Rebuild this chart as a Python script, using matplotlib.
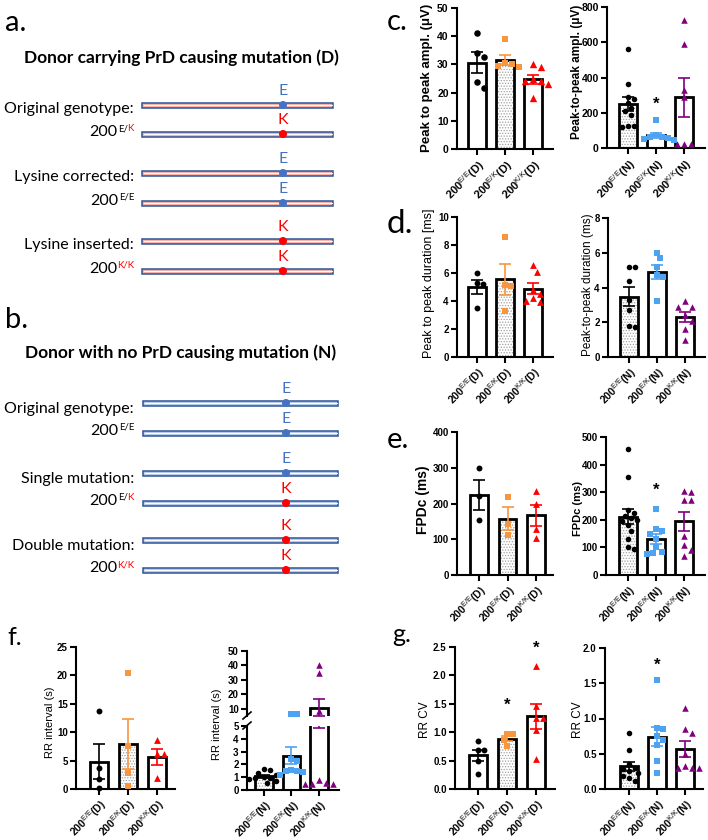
import numpy as np
import matplotlib
matplotlib.use('Agg')
import matplotlib.pyplot as plt
from matplotlib.patches import Rectangle, Circle

# ---------------- data ----------------
d_labels = [r'200$^{\mathrm{E/E}}$(D)', r'200$^{\mathrm{E/K}}$(D)', r'200$^{\mathrm{K/K}}$(D)']
n_labels = [r'200$^{\mathrm{E/E}}$(N)', r'200$^{\mathrm{E/K}}$(N)', r'200$^{\mathrm{K/K}}$(N)']

# c. peak to peak amplitude (uV)
amp_D_EE = [41.3, 34.0, 32.6, 23.6, 21.6]
amp_D_EK = [39.0, 30.5, 30.2, 29.5, 29.0]
amp_D_KK = [30.0, 29.0, 25.0, 24.0, 24.0, 23.0, 18.0]
amp_N_EE = [560, 365, 290, 280, 255, 225, 210, 185, 125, 125, 120]
amp_N_EK = [160, 75, 65, 60, 55, 50, 45]
amp_N_KK = [728, 591, 327, 287, 25, 25, 25]

# d. peak to peak duration (ms)
dur_D_EE = [6.0, 5.3, 5.2, 3.5]
dur_D_EK = [8.6, 5.15, 5.1, 3.3]
dur_D_KK = [6.6, 6.1, 4.8, 4.5, 4.2, 4.0, 3.9]
dur_N_EE = [5.17, 5.17, 4.37, 3.3, 2.73, 1.8, 1.73]
dur_N_EK = [6.0, 5.7, 5.2, 4.7, 4.6, 3.2]
dur_N_KK = [3.2, 2.9, 2.9, 2.4, 2.1, 1.6, 1.0]

# e. FPDc (ms)
fpd_D_EE = [300, 220, 154]
fpd_D_EK = [218, 143, 112]
fpd_D_KK = [234, 200, 129, 103]
fpd_N_EE = [455, 355, 235, 225, 215, 205, 200, 195, 180, 160, 130, 100, 95]
fpd_N_EK = [240, 165, 160, 150, 130, 100, 85, 80, 75]
fpd_N_KK = [305, 300, 270, 270, 140, 110, 90, 70]

# f. RR interval (s)
rr_D_EE = [13.7, 3.75, 1.75, 0.12]
rr_D_EK = [20.4, 7.6, 2.9, 0.6]
rr_D_KK = [8.6, 6.1, 6.1, 1.9]
rr_N_EE = [1.65, 1.55, 1.3, 1.2, 1.0, 0.95, 0.9, 0.85, 0.7, 0.55]
rr_N_EK = [6.2, 6.1, 2.4, 2.3, 1.6, 1.5, 1.5, 1.4, 1.2]
rr_N_KK = [40, 35, 8.4, 0.8, 0.55, 0.5, 0.5, 0.5]

# g. RR CV
cv_D_EE = [0.84, 0.68, 0.68, 0.5, 0.26]
cv_D_EK = [0.97, 0.96, 0.87, 0.75]
cv_D_KK = [2.16, 1.46, 1.25, 1.25, 1.04, 0.52]
cv_N_EE = [0.8, 0.55, 0.35, 0.3, 0.28, 0.25, 0.22, 0.18, 0.15, 0.12]
cv_N_EK = [1.55, 0.86, 0.85, 0.75, 0.7, 0.62, 0.4, 0.22]
cv_N_KK = [1.15, 0.85, 0.8, 0.5, 0.32, 0.3, 0.3, 0.3]

# significance stars (group index, y value)
stars_c_N = [(1, 246)]
stars_e_N = [(1, 307)]
stars_g_D = [(1, 1.47), (2, 2.48)]
stars_g_N = [(1, 1.75)]

# schematic panels a / b
a_alleles = ['E', 'K', 'E', 'E', 'K', 'K']
a_names = ['Original genotype:', 'Lysine corrected:', 'Lysine inserted:']
a_genos = [[('E/', 'black'), ('K', 'red')], [('E/E', 'black')], [('K/K', 'red')]]
b_alleles = ['E', 'E', 'E', 'K', 'K', 'K']
b_names = ['Original genotype:', 'Single mutation:', 'Double mutation:']
b_genos = [[('E/E', 'black')], [('E/', 'black'), ('K', 'red')], [('K/K', 'red')]]

col_D = ['black', '#f7963f', '#ff0000']
col_N = ['black', '#4da3f2', '#800080']
markers = ['o', 's', '^']

# ---------------- figure ----------------
W, H = 708, 840
plt.rcParams['font.family'] = ['Liberation Sans', 'DejaVu Sans']
plt.rcParams['mathtext.fontset'] = 'custom'
plt.rcParams['mathtext.rm'] = 'Liberation Sans'
plt.rcParams['mathtext.it'] = 'Liberation Sans:italic'
plt.rcParams['mathtext.bf'] = 'Liberation Sans:bold'
plt.rcParams['hatch.linewidth'] = 0.6

fig = plt.figure(figsize=(W / 100, H / 100), dpi=100)
bg = fig.add_axes([0, 0, 1, 1])
bg.set_xlim(0, W)
bg.set_ylim(H, 0)
bg.axis('off')
renderer = fig.canvas.get_renderer()

ab_font = 'Lato'
allele_col = {'E': '#4472c4', 'K': '#ff0000'}


def geno_label(x, y, pieces):
    # y = baseline of "200"; superscript pieces placed right to left
    xr = x
    for s, c in reversed(pieces):
        t = bg.text(xr, y - 5, s, color=c, fontsize=7, family=ab_font, ha='right', va='baseline')
        xr -= t.get_window_extent(renderer).width
    bg.text(xr, y, '200', fontsize=11.5, family=ab_font, ha='right', va='baseline')


def schematic(rows, alleles, names, genos, fill, x0, x1, xdot, title, ty, name_dy):
    bg.text(181, ty, title, ha='center', va='center', fontsize=12.5, fontweight='bold', family=ab_font)
    for y, a in zip(rows, alleles):
        bg.add_patch(Rectangle((x0, y - 2.5), x1 - x0, 5, facecolor=fill, edgecolor='#2f5597', lw=1.1))
        bg.plot([x0 + 1.5, x1 - 1.5], [y, y], color='white', lw=0.7)
        bg.add_patch(Circle((xdot, y), 4, facecolor=allele_col[a], edgecolor='none', zorder=3))
        bg.text(xdot, y - 14, a, color=allele_col[a], ha='center', va='center', fontsize=11.5, family=ab_font)
    for k in range(3):
        bg.text(134, rows[2 * k] + name_dy, names[k], ha='right', va='baseline', fontsize=11.5, family=ab_font)
        geno_label(134, rows[2 * k + 1] + 2, genos[k])


schematic([105, 134, 173, 203, 241, 271], a_alleles, a_names, a_genos, '#f3b2aa', 142, 333, 283,
          'Donor carrying PrD causing mutation (D)', 58, 8)
schematic([403, 433, 473, 503, 540, 570], b_alleles, b_names, b_genos, '#b9cbe8', 143, 338, 286,
          'Donor with no PrD causing mutation (N)', 353, 10)

# panel letters
for txt, x, y, fs in [('a.', 5, 31, 21), ('b.', 5, 328, 21), ('c.', 387, 30, 21), ('d.', 387, 233, 24),
                      ('e.', 387, 448, 21), ('f.', 7, 645, 18), ('g.', 392, 642, 18)]:
    bg.text(x, y, txt, ha='left', va='baseline', fontsize=fs, family=ab_font)


def make_ax(box, first, step):
    x0, y0, x1, y1 = box
    ax = fig.add_axes([x0 / W, 1 - y1 / H, (x1 - x0) / W, (y1 - y0) / H])
    ax.patch.set_visible(False)
    ax.set_xlim(-first / step, (x1 - x0 - first) / step)
    for s in ['top', 'right']:
        ax.spines[s].set_visible(False)
    for s in ['left', 'bottom']:
        ax.spines[s].set_linewidth(1.5)
    ax.tick_params(width=1.5, length=4, pad=2)
    return ax


def swarm(ax, xc, vals, d):
    x0, x1 = ax.get_xlim()
    y0, y1 = ax.get_ylim()
    b = ax.get_position()
    sx = b.width * W / (x1 - x0)
    sy = b.height * H / (y1 - y0)
    order = np.argsort(vals)[::-1]
    placed = []
    offs = np.zeros(len(vals))
    for i in order:
        yp = vals[i] * sy
        for k in range(60):
            o = ((k + 1) // 2) * (1 if k % 2 else -1) * d * 0.5
            if all(np.hypot(o - px, yp - py) >= d for px, py in placed):
                break
        placed.append((o, yp))
        offs[i] = o
    return xc + offs / sx


def draw_bars(ax, groups, colors, dotted, ms, ylim, yticks, labels, fs, xfs, fmt='{:g}'):
    ax.set_ylim(*ylim)
    ax.set_yticks(yticks)
    ax.set_yticklabels([fmt.format(t) for t in yticks], fontsize=fs, fontweight='bold')
    ax.set_xticks(range(3))
    ax.set_xticklabels(labels, rotation=45, ha='right', rotation_mode='anchor',
                       fontsize=xfs, fontweight='bold')
    for i, vals in enumerate(groups):
        vals = np.asarray(vals, float)
        m = vals.mean()
        se = vals.std(ddof=1) / np.sqrt(len(vals))
        if i == dotted:
            ax.bar(i, m, 0.62, color='white', edgecolor='#a0a0a0', hatch='......', lw=0, zorder=1)
        ax.bar(i, m, 0.62, fill=False, edgecolor='black', lw=2, zorder=2)
        sel = (vals >= ylim[0]) & (vals <= ylim[1])
        v = vals[sel]
        if len(v):
            d = np.sqrt(ms[i]) * 1.39 * 1.05
            xs = swarm(ax, i, v, d)
            ax.scatter(xs, v, s=ms[i], marker=markers[i], color=colors[i], lw=0, zorder=3, clip_on=False)
        ax.errorbar(i, m, yerr=se, color=colors[i], capsize=4, elinewidth=1.2, capthick=1.2, zorder=4)


def stars(ax, lst, fs=12):
    for i, y in lst:
        ax.text(i, y, '*', ha='center', va='center', fontsize=fs, fontweight='bold', clip_on=False)


def ylab(x, y, txt, fs, bold=False):
    bg.text(x, y, txt, rotation=90, ha='center', va='center', fontsize=fs,
            fontweight='bold' if bold else 'normal')


msD = [18, 18, 24]
msN = [16, 16, 22]

# c.
ax = make_ax((457, 8, 553, 149), 20, 28)
draw_bars(ax, [amp_D_EE, amp_D_EK, amp_D_KK], col_D, 1, [22, 22, 28], (0, 50), range(0, 51, 10),
          d_labels, 7.5, 8)
ylab(427, 78, 'Peak to peak ampl. (μV)', 9.5, True)
ax = make_ax((607, 7, 705, 148), 21, 28)
draw_bars(ax, [amp_N_EE, amp_N_EK, amp_N_KK], col_N, 0, msN, (0, 800), range(0, 801, 200),
          n_labels, 7.5, 8)
stars(ax, stars_c_N)
ylab(577, 72, 'Peak-to-peak ampl. (μV)', 8.5, True)

# d.
ax = make_ax((457, 217, 553, 357), 20, 28)
draw_bars(ax, [dur_D_EE, dur_D_EK, dur_D_KK], col_D, 1, msD, (0, 10), range(0, 11, 2), d_labels, 7, 7.5)
ylab(429, 283, 'Peak to peak duration [ms]', 9)
ax = make_ax((608, 218, 705, 357), 21, 28)
draw_bars(ax, [dur_N_EE, dur_N_EK, dur_N_KK], col_N, 0, msN, (0, 8), range(0, 9, 2), n_labels, 7, 7.5)
ylab(588, 285, 'Peak-to-peak duration (ms)', 8.5)

# e.
ax = make_ax((457, 432, 553, 575), 22, 28.5)
draw_bars(ax, [fpd_D_EE, fpd_D_EK, fpd_D_KK], col_D, 1, msD, (0, 400), range(0, 401, 100),
          d_labels, 7, 7.5)
ylab(423, 500, 'FPDc (ms)', 10, True)
ax = make_ax((606, 437, 705, 575), 22, 28)
draw_bars(ax, [fpd_N_EE, fpd_N_EK, fpd_N_KK], col_N, 0, msN, (0, 500), range(0, 501, 100),
          n_labels, 7, 7.5)
stars(ax, stars_e_N)
ylab(578, 508, 'FPDc (ms)', 8, True)

# f.
ax = make_ax((76, 647, 175, 789), 23, 29)
draw_bars(ax, [rr_D_EE, rr_D_EK, rr_D_KK], col_D, 1, msD, (0, 25), range(0, 26, 5), d_labels, 7, 7.5)
ylab(50, 722, 'RR interval (s)', 8)

axt = make_ax((247, 651, 339, 716), 17, 27.5)
axb = make_ax((247, 726, 339, 790), 17, 27.5)
groups = [rr_N_EE, rr_N_EK, rr_N_KK]
draw_bars(axb, groups, col_N, 0, msN, (0, 5), range(0, 6), n_labels, 7, 7.5)
draw_bars(axt, groups, col_N, 0, msN, (5, 50), range(10, 51, 10), n_labels, 7, 7.5)
axt.spines['bottom'].set_visible(False)
axt.tick_params(axis='x', length=0, labelbottom=False)
bg.plot([243, 251], [719, 712], color='black', lw=1.2)
bg.plot([243, 251], [729, 722], color='black', lw=1.2)
ylab(217, 724, 'RR interval (s)', 8)

# g.
ax = make_ax((455, 647, 555, 789), 23, 29)
draw_bars(ax, [cv_D_EE, cv_D_EK, cv_D_KK], col_D, 1, msD, (0, 2.5), np.arange(0, 2.51, 0.5),
          d_labels, 7, 7.5, fmt='{:.1f}')
stars(ax, stars_g_D)
ylab(425, 720, 'RR CV', 8.5)
ax = make_ax((605, 648, 703, 789), 24, 28)
draw_bars(ax, [cv_N_EE, cv_N_EK, cv_N_KK], col_N, 0, msN, (0, 2.0), np.arange(0, 2.01, 0.5),
          n_labels, 7, 7.5, fmt='{:.1f}')
stars(ax, stars_g_N)
ylab(578, 720, 'RR CV', 8.5)

fig.savefig('out.png', dpi=100)
